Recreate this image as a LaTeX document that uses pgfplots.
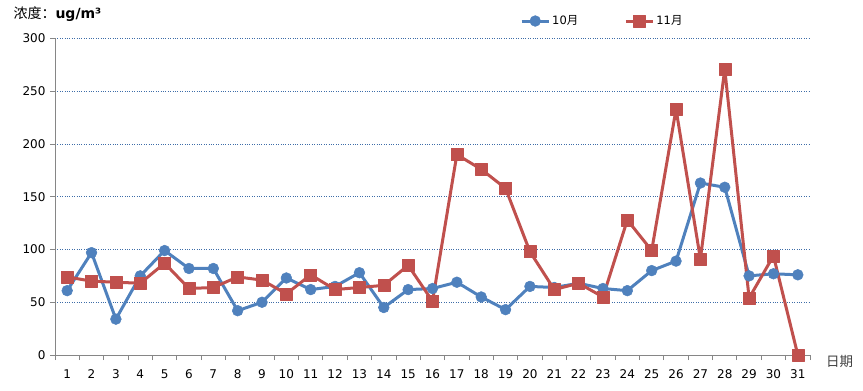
\documentclass[border=0pt]{standalone}
\usepackage{pgfplots}
\pgfplotsset{compat=1.18}
\usepackage{fontspec}
\setmainfont{DejaVu Sans}
\newfontfamily\cjk{Noto Sans CJK SC}
\definecolor{sblue}{HTML}{4F81BD}
\definecolor{sred}{HTML}{C0504D}
\definecolor{axgray}{HTML}{868686}
\definecolor{gridc}{HTML}{3E6DA8}
\begin{document}
\begin{tikzpicture}
\path[use as bounding box] (-55pt,-36pt) rectangle (808pt,355pt);
\begin{axis}[
  at={(0pt,0pt)}, anchor=south west,
  scale only axis, width=755pt, height=316.5pt,
  xmin=0.5, xmax=31.5, ymin=0, ymax=300,
  axis x line*=bottom, axis y line*=left,
  axis line style={axgray, line width=0.9pt},
  xtick={1,...,31}, major x tick style={draw=none},
  minor xtick={0.5,1.5,...,31.5},
  minor x tick style={axgray, line width=0.9pt},
  minor tick length=5pt,
  ytick={0,50,...,300},
  major y tick style={axgray, line width=0.9pt},
  major tick length=5pt,
  tick align=outside,
  ymajorgrids, grid style={gridc, line width=0.8pt, dash pattern=on 0.8pt off 1.6pt},
  xticklabel style={yshift=-6pt},
  yticklabel style={xshift=-1pt},
  /pgf/number format/assume math mode=true,
  tick label style={font=\fontsize{12}{14}\selectfont},
  clip=false,
  legend columns=2,
  legend image code/.code={\draw[mark repeat=2,mark phase=2] plot coordinates {(0pt,0pt) (13.5pt,0pt) (27pt,0pt)};},
  legend style={at={(0.725,1)}, anchor=south, yshift=8pt, draw=none, fill=none,
    font=\fontsize{11.5}{13}\selectfont,
    /tikz/every even column/.append style={column sep=44pt}},
]
\addplot[sblue, line width=3pt, line join=round, mark=*, mark size=5.4pt, mark options={solid, fill=sblue, draw=sblue, line width=0.5pt}] coordinates {
(1,61) (2,97) (3,34) (4,75) (5,99) (6,82) (7,82) (8,42) (9,50) (10,73)
(11,62) (12,65) (13,78) (14,45) (15,62) (16,63) (17,69) (18,55) (19,43) (20,65)
(21,64) (22,68) (23,63) (24,61) (25,80) (26,89) (27,163) (28,159) (29,75) (30,77) (31,76)};
\addlegendentry{10{\cjk 月}}
\addplot[sred, line width=3pt, line join=round, mark=square*, mark size=6pt, mark options={solid, fill=sred, draw=sred, line width=0.5pt}] coordinates {
(1,74) (2,70) (3,69) (4,68) (5,87) (6,63) (7,64) (8,74) (9,71) (10,58)
(11,76) (12,62) (13,64) (14,66) (15,85) (16,51) (17,190) (18,176) (19,158) (20,98)
(21,62) (22,68) (23,55) (24,128) (25,99) (26,233) (27,91) (28,271) (29,54) (30,94) (31,0)};
\addlegendentry{11{\cjk 月}}
\node[anchor=west, font=\fontsize{14}{16}\selectfont] at (axis description cs:0,1) [xshift=-45pt, yshift=24pt] {{\cjk 浓度：}\textbf{ug/m³}};
\node[anchor=west, inner sep=0pt, text=black!75, font=\cjk\fontsize{13.5}{15}\selectfont] at (axis cs:31.5,0) [xshift=16pt, yshift=-6pt] {日期};
\end{axis}
\end{tikzpicture}
\end{document}
